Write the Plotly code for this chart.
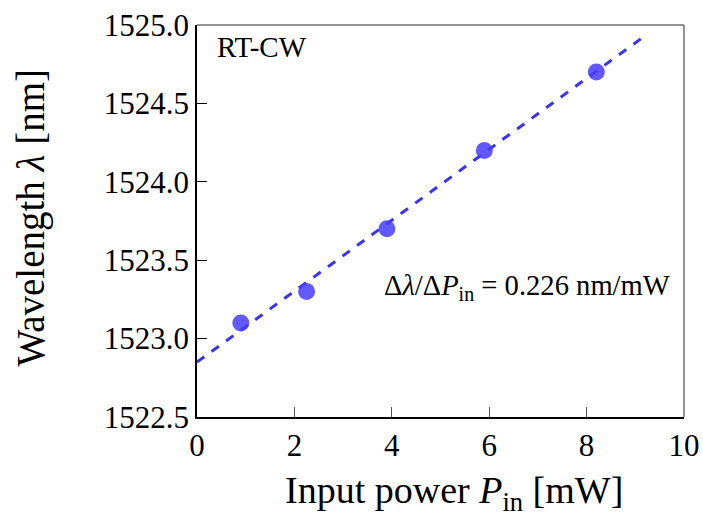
import plotly.graph_objects as go

power_mw = [0.9, 2.25, 3.9, 5.9, 8.2]
wavelength_nm = [1523.1, 1523.3, 1523.7, 1524.2, 1524.7]
fit_x = [0.0, 9.15]
fit_y = [1522.85, 1524.92]
x_ticks = [0, 2, 4, 6, 8, 10]
y_ticks = [1522.5, 1523.0, 1523.5, 1524.0, 1524.5, 1525.0]

FONT = "Liberation Serif, Times New Roman, serif"

fig = go.Figure()
fig.add_trace(go.Scatter(
    x=fit_x, y=fit_y, mode="lines",
    line=dict(color="#3a32f0", width=3, dash="dash"),
    showlegend=False))
fig.add_trace(go.Scatter(
    x=power_mw, y=wavelength_nm, mode="markers",
    marker=dict(color="rgba(70,60,250,0.85)", size=17, line=dict(width=0)),
    showlegend=False))

fig.update_layout(
    width=703, height=521,
    margin=dict(l=197, r=19, t=25, b=104),
    plot_bgcolor="white", paper_bgcolor="white",
    font=dict(family=FONT, color="black"),
    xaxis=dict(range=[0, 10], tickvals=x_ticks, ticktext=[str(v) for v in x_ticks],
               ticks="inside", ticklen=10, tickcolor="#555", tickwidth=1,
               showline=True, linecolor="black", linewidth=1.5,
               showgrid=False, zeroline=False, automargin=False,
               ticklabeloverflow="allow",
               tickfont=dict(size=31, family=FONT)),
    yaxis=dict(range=[1522.5, 1525.0], tickvals=y_ticks,
               ticktext=[f"{v:.1f}" for v in y_ticks],
               ticks="inside", ticklen=10, tickcolor="black", tickwidth=1,
               showline=True, linecolor="black", linewidth=1.5,
               showgrid=False, zeroline=False, automargin=False,
               ticklabeloverflow="allow",
               tickfont=dict(size=31, family=FONT)),
    shapes=[
        dict(type="line", xref="paper", yref="paper", x0=0, x1=1, y0=1, y1=1,
             line=dict(color="#707070", width=1.5)),
        dict(type="line", xref="paper", yref="paper", x0=1, x1=1, y0=0, y1=1,
             line=dict(color="#707070", width=1.5)),
    ],
    annotations=[
        dict(text="RT-CW", xref="paper", yref="paper", x=0.037, y=0.944,
             xanchor="left", yanchor="middle", showarrow=False,
             font=dict(size=29, family=FONT)),
        dict(text="Δ<i>λ</i>/Δ<i>P</i><sub>in</sub> = 0.226 nm/mW",
             xref="paper", yref="paper", x=0.38, y=0.33,
             xanchor="left", yanchor="middle", showarrow=False,
             font=dict(size=28.6, family=FONT)),
        dict(text="Input power <i>P</i><sub>in</sub> [mW]",
             xref="paper", yref="paper", x=0.528, y=-0.194,
             xanchor="center", yanchor="middle", showarrow=False,
             font=dict(size=38, family=FONT)),
        dict(text="Wavelength <i>λ</i> [nm]",
             xref="paper", yref="paper", x=-0.34, y=0.51,
             xanchor="center", yanchor="middle", showarrow=False, textangle=-90,
             font=dict(size=39, family=FONT)),
    ],
)

fig.write_html(
    "out.html",
    config={"displayModeBar": False},
    post_script="document.body.style.margin='0';document.body.style.overflow='hidden';",
)
